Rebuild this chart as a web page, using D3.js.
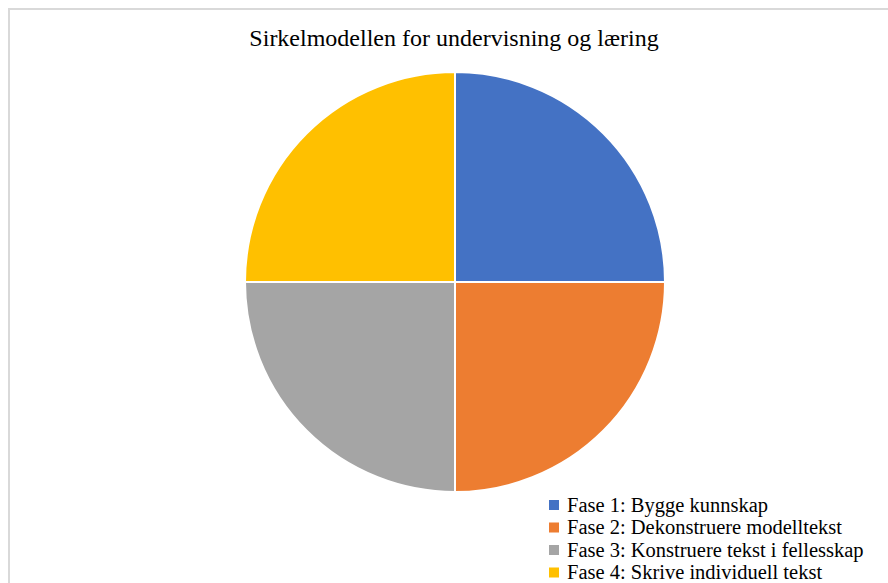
<!DOCTYPE html>
<html>
<head>
<meta charset="utf-8">
<script src="https://cdn.jsdelivr.net/npm/d3@7"></script>
<style>
  body { margin: 0; background: #fff; }
  svg { display: block; }
</style>
</head>
<body>
<svg id="chart" width="888" height="583"></svg>
<script>
// data
var phases = ["Fase 1: Bygge kunnskap", "Fase 2: Dekonstruere modelltekst",
              "Fase 3: Konstruere tekst i fellesskap", "Fase 4: Skrive individuell tekst"];
var values = [25, 25, 25, 25];
var colors = ["#4472C4", "#ED7D31", "#A5A5A5", "#FFC000"];
var title = "Sirkelmodellen for undervisning og læring";

var width = 888, height = 583;
var svg = d3.select("#chart");

// chart area border (runs off the right / bottom edge)
svg.append("rect")
    .attr("x", 9).attr("y", 9)
    .attr("width", width + 10).attr("height", height + 10)
    .attr("fill", "none")
    .attr("stroke", "#d9d9d9")
    .attr("stroke-width", 2);

svg.append("text")
    .attr("x", 454).attr("y", 46)
    .attr("text-anchor", "middle")
    .style("font-family", "'Liberation Serif', 'Times New Roman', serif")
    .style("font-size", "24px")
    .attr("fill", "#000")
    .text(title);

var pie = d3.pie().sort(null).value(function(d) { return d; });
var arc = d3.arc().innerRadius(0).outerRadius(210);

var g = svg.append("g").attr("transform", "translate(455,282)");
g.selectAll("path")
    .data(pie(values))
    .enter().append("path")
    .attr("d", arc)
    .attr("fill", function(d, i) { return colors[i]; })
    .attr("stroke", "#fff")
    .attr("stroke-width", 2);

var legend = svg.append("g").attr("transform", "translate(549,500)");
var item = legend.selectAll("g")
    .data(phases)
    .enter().append("g")
    .attr("transform", function(d, i) { return "translate(0," + i * 22.5 + ")"; });

item.append("rect")
    .attr("width", 10).attr("height", 10)
    .attr("fill", function(d, i) { return colors[i]; });

item.append("text")
    .attr("x", 18).attr("y", 11.5)
    .style("font-family", "'Liberation Serif', 'Times New Roman', serif")
    .style("font-size", "20.5px")
    .attr("fill", "#000")
    .text(function(d) { return d; });
</script>
</body>
</html>
